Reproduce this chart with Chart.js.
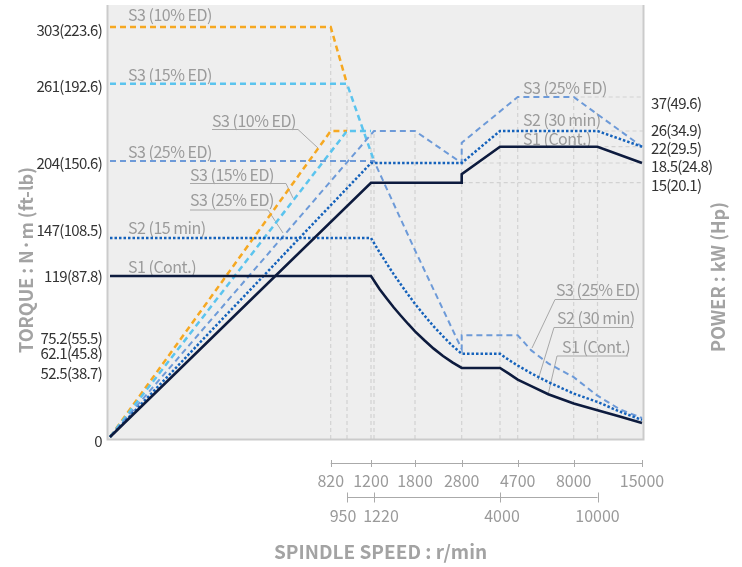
<!DOCTYPE html>
<html>
<head>
<meta charset="utf-8">
<script src="https://cdn.jsdelivr.net/npm/chart.js@4"></script>
<style>
    html, body { margin: 0; padding: 0; background: #fff; }
    #wrap { width: 742px; height: 567px; }
</style>
</head>
<body>
<div id="wrap"><canvas id="chart" width="742" height="567"></canvas></div>
<script>
// axis ticks
const speedTicksTop = [820, 1200, 1800, 2800, 4700, 8000, 15000];
const speedTicksBottom = [950, 1220, 4000, 10000];
const torqueTicks = [0, 52.5, 62.1, 75.2, 119, 147, 204, 261, 303];
const torqueTickLabels = ['0', '52.5(38.7)', '62.1(45.8)', '75.2(55.5)', '119(87.8)', '147(108.5)', '204(150.6)', '261(192.6)', '303(223.6)'];
const powerTicks = [15, 18.5, 22, 26, 37];
const powerTickLabels = ['15(20.1)', '18.5(24.8)', '22(29.5)', '26(34.9)', '37(49.6)'];
const powerGuideFrom = [2800, 2800, 10000, 10000, 8000];

// torque curves (N·m)
const s1TorqueSpeed = [0, 1200, 1300, 1400, 1500, 1600, 1700, 1800, 2000, 2200, 2400, 2600, 2800, 4000, 4350, 4700, 5500, 6500, 8000, 10000, 12500, 15000];
const s1Torque = [119, 119, 109.2, 102.3, 95.7, 89.6, 83.7, 78.1, 71.5, 65.3, 59.9, 55.1, 51, 51, 46.8, 42.4, 37.6, 31.6, 24.8, 19.8, 15.1, 10.3];
const s2TorqueSpeed = [0, 1200, 1300, 1400, 1500, 1600, 1700, 1800, 2000, 2200, 2400, 2600, 2800, 4000, 4350, 4700, 5500, 6500, 8000, 10000, 12500, 15000];
const s2Torque = [147, 147, 136.4, 128.2, 120.2, 112.7, 105.4, 98.4, 89.9, 81.7, 74.4, 67.5, 61.5, 61.5, 56.9, 52.8, 47, 40.6, 32.1, 25.9, 18.8, 12.6];
const s3_25TorqueSpeed = [0, 1220, 1800, 2800, 2800, 4700, 5500, 6500, 8000, 10000, 12500, 15000];
const s3_25Torque = [204, 204, 138, 65, 75.2, 75.2, 64, 54.4, 44.2, 30.5, 20.5, 14];
const s3_15TorqueSpeed = [0, 950, 1220];
const s3_15Torque = [261, 261, 204];
const s3_10TorqueSpeed = [0, 820, 950];
const s3_10Torque = [303, 303, 261];

// power curves (kW)
const s1PowerSpeed = [0, 1200, 2800, 2800, 4000, 10000, 15000];
const s1Power = [0, 15, 15, 16.5, 22, 22, 18.5];
const s2PowerSpeed = [0, 1200, 2800, 4000, 10000, 15000];
const s2Power = [0, 18.5, 18.5, 26, 26, 22];
const s3_25PowerSpeed = [0, 1220, 1800, 2800, 2800, 4700, 8000, 15000];
const s3_25Power = [0, 26, 26, 18.5, 23, 37, 37, 22];
const s3_15PowerSpeed = [0, 950, 1200];
const s3_15Power = [0, 26, 26];
const s3_10PowerSpeed = [0, 820, 950];
const s3_10Power = [0, 26, 26];

// layout: plot box and the hand-spaced axis breaks
const AREA = { left: 108, right: 643, top: 5, bottom: 439 };
const speedKnots = [0, 820, 950, 1200, 1220, 1800, 2800, 4000, 4700, 8000, 10000, 15000];
const speedKnotPx = [110, 330.7, 347, 371, 374, 415, 461.7, 500, 517.7, 573.7, 597.5, 642];
const powerKnots = [0, 15, 18.5, 22, 26, 37];
const powerKnotPx = [437, 182.7, 163, 146.7, 131, 97];

const COLORS = {
    s1: '#0d1b3e',
    s2: '#1562bb',
    s3_25: '#6d9ad8',
    s3_15: '#5bc4ee',
    s3_10: '#f6a821',
    note: '#9b9b9b',
    guide: '#d2d2d2',
    frame: '#cbcbcb',
    tick: '#333333',
    speed: '#9a9a9a',
    axis: '#a3a3a3'
};
const FONT = '"Noto Sans CJK KR", "Noto Sans", sans-serif';

function interp(v, xs, ys) {
    let i = 1;
    while (i < xs.length - 1 && v > xs[i]) i++;
    const t = (v - xs[i - 1]) / (xs[i] - xs[i - 1]);
    return ys[i - 1] + t * (ys[i] - ys[i - 1]);
}

const W = AREA.right - AREA.left;
const H = AREA.bottom - AREA.top;
const KNOTS = {
    x: [speedKnots, speedKnotPx.map(p => (p - AREA.left) / W)],
    yP: [powerKnots, powerKnotPx.map(p => (AREA.bottom - p) / H)]
};

class PiecewiseScale extends Chart.LinearScale {
    getPixelForValue(value) {
        const [vals, fracs] = KNOTS[this.id];
        return this.getPixelForDecimal(interp(value, vals, fracs));
    }
    getValueForPixel(pixel) {
        const [vals, fracs] = KNOTS[this.id];
        return interp(this.getDecimalForPixel(pixel), fracs, vals);
    }
}
PiecewiseScale.id = 'piecewise';
PiecewiseScale.defaults = Chart.LinearScale.defaults;
Chart.register(PiecewiseScale);

function pts(xs, ys) {
    return xs.map((x, i) => ({ x: x, y: ys[i] }));
}

function series(label, xs, ys, axis, color, width, dash) {
    return {
        label: label,
        data: pts(xs, ys),
        xAxisID: 'x',
        yAxisID: axis,
        borderColor: color,
        borderWidth: width,
        borderDash: dash,
        pointRadius: 0,
        fill: false,
        tension: 0
    };
}

const datasets = [
    series('S1 torque', s1TorqueSpeed, s1Torque, 'yT', COLORS.s1, 2.6, []),
    series('S1 power', s1PowerSpeed, s1Power, 'yP', COLORS.s1, 2.6, []),
    series('S2 torque', s2TorqueSpeed, s2Torque, 'yT', COLORS.s2, 2.5, [2.5, 2]),
    series('S2 power', s2PowerSpeed, s2Power, 'yP', COLORS.s2, 2.5, [2.5, 2]),
    series('S3 25% torque', s3_25TorqueSpeed, s3_25Torque, 'yT', COLORS.s3_25, 2, [6, 4]),
    series('S3 25% power', s3_25PowerSpeed, s3_25Power, 'yP', COLORS.s3_25, 2, [6, 4]),
    series('S3 15% torque', s3_15TorqueSpeed, s3_15Torque, 'yT', COLORS.s3_15, 2.5, [6, 4]),
    series('S3 15% power', s3_15PowerSpeed, s3_15Power, 'yP', COLORS.s3_15, 2.5, [6, 4]),
    series('S3 10% torque', s3_10TorqueSpeed, s3_10Torque, 'yT', COLORS.s3_10, 2.5, [6, 4]),
    series('S3 10% power', s3_10PowerSpeed, s3_10Power, 'yP', COLORS.s3_10, 2.5, [6, 4])
];

// curve captions, pixel placed; "line" is the leader under/next to the text
const notes = [
    { text: 'S3 (10% ED)', x: 128, y: 15 },
    { text: 'S3 (15% ED)', x: 128, y: 75 },
    { text: 'S3 (25% ED)', x: 128, y: 152 },
    { text: 'S2 (15 min)', x: 128, y: 228 },
    { text: 'S1 (Cont.)', x: 128, y: 267 },
    { text: 'S3 (10% ED)', x: 212, y: 121, line: [[212, 129.5], [298, 129.5], [318, 148]] },
    { text: 'S3 (15% ED)', x: 190, y: 175, line: [[190, 183.5], [286, 183.5], [293, 198]] },
    { text: 'S3 (25% ED)', x: 190, y: 200, line: [[190, 210], [268, 210], [283, 233]] },
    { text: 'S3 (25% ED)', x: 523, y: 88 },
    { text: 'S2 (30 min)', x: 523, y: 120 },
    { text: 'S1 (Cont.)', x: 523, y: 139 },
    { text: 'S3 (25% ED)', x: 556, y: 290, line: [[637, 299.5], [555, 299.5], [532, 348]] },
    { text: 'S2 (30 min)', x: 557, y: 318, line: [[633, 327.5], [554, 327.5], [538, 380]] },
    { text: 'S1 (Cont.)', x: 562, y: 347, line: [[628, 356], [557, 356], [548, 395]] }
];
const torqueLabelNudge = [4.5, 7, 0, 3.5, 0, -8, 2, 2, 3];
const powerLabelNudge = [2.3, 3.7, 2, -0.5, 6];
const bottomLabelNudge = [-4, 7, 2, 0];

const decor = {
    id: 'decor',
    beforeDraw(chart) {
        const a = chart.chartArea;
        const ctx = chart.ctx;
        ctx.save();
        ctx.fillStyle = '#eeeeee';
        ctx.fillRect(a.left, a.top, a.right - a.left, a.bottom - a.top);
        ctx.restore();
    },
    beforeDatasetsDraw(chart) {
        const a = chart.chartArea;
        const ctx = chart.ctx;
        const x = chart.scales.x;
        const yP = chart.scales.yP;
        ctx.save();
        ctx.strokeStyle = COLORS.guide;
        ctx.lineWidth = 1.2;
        ctx.setLineDash([4, 3]);

        // vertical guides up to the highest curve at each speed
        speedKnots.slice(1, -1).forEach(s => {
            let top = a.bottom;
            chart.data.datasets.forEach(ds => {
                const ys = chart.scales[ds.yAxisID];
                ds.data.forEach(p => {
                    if (p.x === s) top = Math.min(top, ys.getPixelForValue(p.y));
                });
            });
            const px = x.getPixelForValue(s);
            ctx.beginPath();
            ctx.moveTo(px, a.bottom);
            ctx.lineTo(px, top);
            ctx.stroke();
        });

        // horizontal guides out to the power axis
        powerTicks.forEach((p, i) => {
            const py = yP.getPixelForValue(p);
            ctx.beginPath();
            ctx.moveTo(x.getPixelForValue(powerGuideFrom[i]), py);
            ctx.lineTo(a.right, py);
            ctx.stroke();
        });
        ctx.setLineDash([]);

        // frame
        ctx.strokeStyle = COLORS.frame;
        ctx.lineWidth = 2;
        ctx.beginPath();
        ctx.moveTo(a.left - 0.5, a.top);
        ctx.lineTo(a.left - 0.5, a.bottom + 0.5);
        ctx.lineTo(a.right + 0.5, a.bottom + 0.5);
        ctx.lineTo(a.right + 0.5, a.top);
        ctx.stroke();

        // captions
        ctx.strokeStyle = '#a8a8a8';
        ctx.lineWidth = 1;
        ctx.fillStyle = COLORS.note;
        ctx.font = '16px ' + FONT;
        ctx.letterSpacing = '-0.5px';
        ctx.textBaseline = 'middle';
        ctx.textAlign = 'left';
        notes.forEach(n => {
            ctx.fillText(n.text, n.x, n.y);
            if (n.line) {
                ctx.beginPath();
                n.line.forEach((p, i) => i ? ctx.lineTo(p[0], p[1]) : ctx.moveTo(p[0], p[1]));
                ctx.stroke();
            }
        });
        ctx.restore();
    },
    afterDraw(chart) {
        const ctx = chart.ctx;
        const x = chart.scales.x;
        const yT = chart.scales.yT;
        const yP = chart.scales.yP;
        ctx.save();

        // value labels on both sides
        ctx.fillStyle = COLORS.tick;
        ctx.font = '15px ' + FONT;
        ctx.letterSpacing = '-0.7px';
        ctx.textBaseline = 'middle';
        ctx.textAlign = 'right';
        torqueTicks.forEach((v, i) => {
            ctx.fillText(torqueTickLabels[i], 102, yT.getPixelForValue(v) + torqueLabelNudge[i]);
        });
        ctx.textAlign = 'left';
        powerTicks.forEach((v, i) => {
            ctx.fillText(powerTickLabels[i], 651, yP.getPixelForValue(v) + powerLabelNudge[i]);
        });

        // second row of speeds
        ctx.fillStyle = COLORS.speed;
        ctx.font = '16px ' + FONT;
        ctx.letterSpacing = '0px';
        ctx.textAlign = 'center';
        speedTicksBottom.forEach((s, i) => {
            ctx.fillText(String(s), x.getPixelForValue(s) + bottomLabelNudge[i], 516);
        });

        // speed brackets
        ctx.strokeStyle = '#aaaaaa';
        ctx.lineWidth = 1;
        [[speedTicksTop, 463.5, 3.5], [speedTicksBottom, 497.5, 5]].forEach(([ticks, y, h]) => {
            ctx.beginPath();
            ctx.moveTo(x.getPixelForValue(ticks[0]), y);
            ctx.lineTo(x.getPixelForValue(ticks[ticks.length - 1]), y);
            ticks.forEach(s => {
                const px = Math.round(x.getPixelForValue(s)) + 0.5;
                ctx.moveTo(px, y - h);
                ctx.lineTo(px, y + h);
            });
            ctx.stroke();
        });

        // axis titles
        ctx.fillStyle = COLORS.axis;
        ctx.textAlign = 'center';
        ctx.font = 'bold 19px ' + FONT;
        ctx.fillText('SPINDLE SPEED : r/min', 380.5, 552);
        ctx.font = 'bold 18px ' + FONT;
        ctx.translate(26, 260);
        ctx.rotate(-Math.PI / 2);
        ctx.fillText('TORQUE : N·m (ft-lb)', 0, 0);
        ctx.setTransform(1, 0, 0, 1, 0, 0);
        ctx.translate(718, 277);
        ctx.rotate(-Math.PI / 2);
        ctx.fillText('POWER : kW (Hp)', 0, 0);
        ctx.restore();
    }
};

new Chart(document.getElementById('chart'), {
    type: 'line',
    data: { datasets: datasets },
    options: {
        responsive: false,
        animation: false,
        devicePixelRatio: 1,
        layout: { padding: { left: AREA.left, right: 742 - AREA.right, top: AREA.top, bottom: 76 } },
        plugins: { legend: { display: false }, tooltip: { enabled: false } },
        elements: { line: { borderCapStyle: 'butt', borderJoinStyle: 'miter' } },
        scales: {
            x: {
                type: 'piecewise',
                position: 'bottom',
                min: 0,
                max: 15000,
                grid: { display: false, drawTicks: false },
                border: { display: false },
                ticks: {
                    autoSkip: false,
                    maxRotation: 0,
                    padding: 32,
                    color: COLORS.speed,
                    font: { family: FONT, size: 16 },
                    callback: v => String(v)
                },
                afterBuildTicks: s => { s.ticks = speedTicksTop.map(v => ({ value: v })); },
                afterFit: s => { s.height = 52; }
            },
            yT: { type: 'linear', display: false, min: -1.48, max: 319.26 },
            yP: { type: 'piecewise', display: false, min: 0, max: 60 }
        }
    },
    plugins: [decor]
});
</script>
</body>
</html>
